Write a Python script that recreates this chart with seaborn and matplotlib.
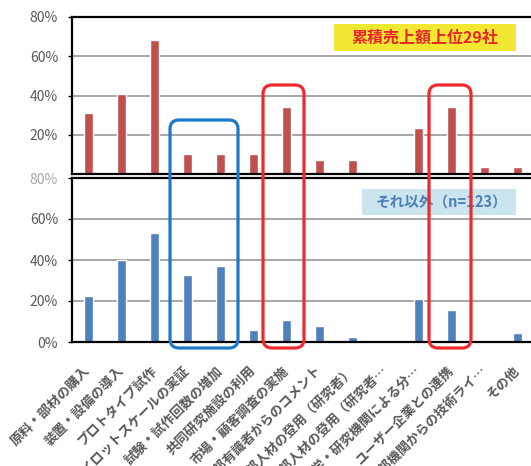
import numpy as np
import pandas as pd
import matplotlib
matplotlib.use("Agg")
import matplotlib.pyplot as plt
import seaborn as sns
from matplotlib.patches import FancyBboxPatch, Rectangle
from matplotlib.transforms import IdentityTransform

categories = [
    "原料・部材の購入",
    "装置・設備の導入",
    "プロトタイプ試作",
    "パイロットスケールの実証",
    "試験・試作回数の増加",
    "共同研究施設の利用",
    "市場・顧客調査の実施",
    "外部有識者からのコメント",
    "外部人材の登用（研究者）",
    "外部人材の登用（研究者…",
    "大学・研究機関による分…",
    "ユーザー企業との連携",
    "外部機関からの技術ライ…",
    "その他",
]
top_values = [31, 41, 68.5, 10, 10, 10, 34, 7, 7, 0, 23.5, 34, 3.5, 3.5]
bottom_values = [22.3, 40, 53.4, 32.9, 37.3, 6, 10.9, 7.6, 2.4, 0.8, 21.1, 15.8, 0, 4.4]
top_ticks = [20, 40, 60, 80]
bottom_ticks = [0, 20, 40, 60, 80]
top_title = "累積売上額上位29社"
bottom_title = "それ以外（n=123）"

sns.set_theme(style="white")
plt.rcParams['font.family'] = ['Noto Sans CJK JP', 'DejaVu Sans']

W, H = 531, 466
fig = plt.figure(figsize=(W / 100, H / 100), dpi=100)


def rect(x0, y0, x1, y1):
    return [x0 / W, 1 - y1 / H, (x1 - x0) / W, (y1 - y0) / H]


ax_top = fig.add_axes(rect(72, 17, 534, 174))
ax_bot = fig.add_axes(rect(72, 178, 534, 342))

df_top = pd.DataFrame({"cat": categories, "val": top_values})
df_bot = pd.DataFrame({"cat": categories, "val": bottom_values})

sns.barplot(data=df_top, x="cat", y="val", color="#C0504D", saturation=1,
            width=0.3, ax=ax_top)
sns.barplot(data=df_bot, x="cat", y="val", color="#4F81BD", saturation=1,
            width=0.3, ax=ax_bot)

for ax, ticks in ((ax_top, top_ticks), (ax_bot, bottom_ticks)):
    ax.set_ylim(0, 80)
    ax.set_xlim(-0.5, len(categories) - 0.5)
    ax.set_yticks(ticks)
    ax.set_yticklabels([f"{t}%" for t in ticks])
    ax.set_xlabel("")
    ax.set_ylabel("")
    ax.yaxis.grid(True, color="#A6A6A6", lw=1.4)
    ax.set_axisbelow(True)
    ax.tick_params(axis="y", length=3, width=1, color="black", labelsize=10,
                   labelcolor="#595959", pad=7, left=True, direction="out")
    for s in ("left", "top", "bottom"):
        ax.spines[s].set_visible(True)
        ax.spines[s].set_color("black")
        ax.spines[s].set_linewidth(1.6)
    ax.spines["right"].set_visible(False)
    ax.patch.set_alpha(0)

ax_top.set_xticks(range(len(categories)))
ax_top.set_xticklabels([])
ax_top.tick_params(axis="x", length=0)

ax_bot.set_xticks(range(len(categories)))
ax_bot.set_xticklabels(categories, rotation=45, ha="right", va="center",
                       rotation_mode="anchor", fontsize=9.5,
                       fontweight="bold", color="#595959")
ax_bot.tick_params(axis="x", length=0, pad=19)
ax_bot.get_yticklabels()[-1].set_color("#A8A8A8")

# Annotation label boxes
tr = IdentityTransform()


def px_box(x0, y0, x1, y1, **kw):
    return Rectangle((x0, H - y1), x1 - x0, y1 - y0, transform=tr, **kw)


fig.patches.append(px_box(334, 24, 516, 51, facecolor="#F2E832", edgecolor="none", zorder=5))
fig.text((334 + 516) / 2 / W, 1 - 37.5 / H, top_title, ha="center", va="center",
         fontsize=11.5, fontweight="bold", color="#E8262A", zorder=6)

fig.patches.append(px_box(362, 189, 516, 215, facecolor="#CBE5EE", edgecolor="none", zorder=5))
fig.text((362 + 516) / 2 / W + 0.004, 1 - 202 / H, bottom_title, ha="center", va="center",
         fontsize=10.5, fontweight="bold", color="#4F7FB5", zorder=6)


def rounded(x0, y0, x1, y1, color):
    return FancyBboxPatch((x0, H - y1), x1 - x0, y1 - y0,
                          boxstyle="round,pad=0,rounding_size=9",
                          transform=tr, facecolor="none", edgecolor=color,
                          linewidth=2.3, zorder=7)


fig.patches.append(rounded(170, 120, 238, 348, "#1E78C8"))
fig.patches.append(rounded(263, 85, 304, 348, "#EE2A2E"))
fig.patches.append(rounded(429, 85, 471, 348, "#EE2A2E"))

fig.savefig("out.png", dpi=100)
